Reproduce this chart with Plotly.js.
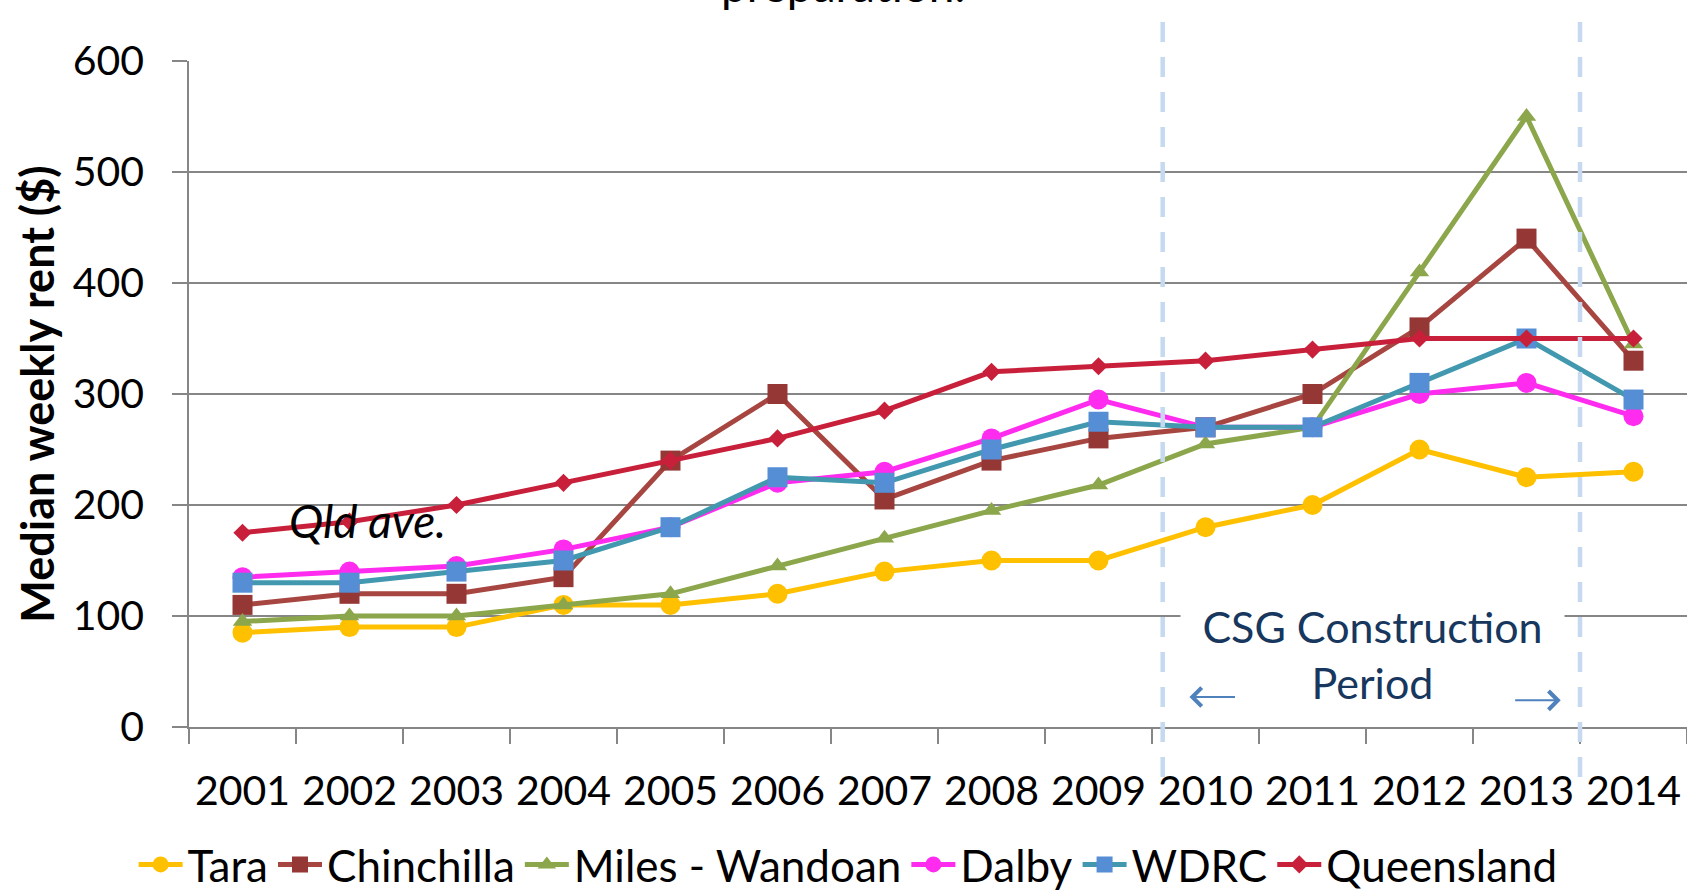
<!DOCTYPE html>
<html>
<head>
<meta charset="utf-8">
<script src="https://cdn.plot.ly/plotly-3.0.1.min.js"></script>
<style>
html,body{margin:0;padding:0;background:#fff;}
#chart{width:1687px;height:892px;}
</style>
</head>
<body>
<div id="chart"></div>
<script>
const years = ['2001','2002','2003','2004','2005','2006','2007','2008','2009','2010','2011','2012','2013','2014'];
const tara = [85, 90, 90, 110, 110, 120, 140, 150, 150, 180, 200, 250, 225, 230];
const chinchilla = [110, 120, 120, 135, 240, 300, 205, 240, 260, 270, 300, 360, 440, 330];
const milesWandoan = [95, 100, 100, 110, 120, 145, 170, 195, 218, 255, 270, 410, 550, 345];
const dalby = [135, 140, 145, 160, 180, 220, 230, 260, 295, 270, 270, 300, 310, 280];
const wdrc = [130, 130, 140, 150, 180, 225, 220, 250, 275, 270, 270, 310, 350, 295];
const queensland = [175, 185, 200, 220, 240, 260, 285, 320, 325, 330, 340, 350, 350, 350];
const yTicks = [0, 100, 200, 300, 400, 500, 600];

const FONT = 'Lato, "Open Sans", "DejaVu Sans", sans-serif';
const LW = 5;

function series(name, y, lineColor, markerColor, symbol, size) {
  return {
    type: 'scatter', mode: 'lines+markers', name: name,
    x: years, y: y,
    line: {color: lineColor, width: LW},
    marker: {color: markerColor, symbol: symbol, size: size, line: {width: 0}}
  };
}

const data = [
  series('Tara', tara, '#FFC000', '#FFC000', 'circle', 20),
  series('Chinchilla', chinchilla, '#A74641', '#953735', 'square', 20),
  series('Miles - Wandoan', milesWandoan, '#8BA64B', '#8BA64B', 'triangle-up', 17),
  series('Dalby', dalby, '#FF2BEF', '#FF2BEF', 'circle', 20),
  series('WDRC', wdrc, '#4198AF', '#558ED5', 'square', 20),
  series('Queensland', queensland, '#C8203A', '#C8203A', 'diamond', 14)
];

const dashStyle = {color: '#C6D9F1', width: 4.5, dash: '20px,15px'};

const layout = {
  width: 1687, height: 892,
  margin: {l: 189, r: 0, t: 61, b: 165, autoexpand: false},
  paper_bgcolor: '#fff', plot_bgcolor: '#fff',
  font: {family: FONT, color: '#000', size: 41},
  showlegend: true,
  legend: {
    orientation: 'h', x: 0.44, xanchor: 'center', y: -0.207, yanchor: 'middle',
    itemwidth: 44,
    font: {family: FONT, size: 44, color: '#000'}, bgcolor: 'rgba(0,0,0,0)'
  },
  xaxis: {
    type: 'category', range: [-0.5, 13.5], fixedrange: true, automargin: false,
    showgrid: false, showline: true, linecolor: '#868686', linewidth: 1.5,
    ticks: 'outside', tickson: 'boundaries', ticklen: 15, tickcolor: '#868686', tickwidth: 1.5,
    ticklabelstandoff: 27,
    tickfont: {family: FONT, size: 41, color: '#000'}
  },
  yaxis: {
    range: [0, 600], tickvals: yTicks, fixedrange: true, automargin: false,
    showgrid: true, gridcolor: '#868686', gridwidth: 1.5,
    zeroline: false, showline: true, linecolor: '#868686', linewidth: 1.5,
    ticks: 'outside', ticklen: 15, tickcolor: '#868686', tickwidth: 1.5,
    ticklabelstandoff: 20,
    tickfont: {family: FONT, size: 41, color: '#000'},
    title: {text: 'Median weekly rent ($)', font: {family: FONT, size: 45, color: '#000', weight: 'bold'}, standoff: 4}
  },
  shapes: [
    {type: 'line', xref: 'x', yref: 'paper', x0: 8.6, x1: 8.6, y0: -0.075, y1: 1.074, line: dashStyle, layer: 'above'},
    {type: 'line', xref: 'x', yref: 'paper', x0: 12.5, x1: 12.5, y0: -0.075, y1: 1.074, line: dashStyle, layer: 'above'}
  ],
  annotations: [
    {xref: 'paper', yref: 'paper', x: 0.4365, y: 1.07, xanchor: 'center', yanchor: 'bottom',
     text: 'preparation.', showarrow: false, font: {family: FONT, size: 46, color: '#000'}},
    {xref: 'x', yref: 'y', x: 1.17, y: 186, xanchor: 'center', yanchor: 'middle',
     text: '<i>Qld ave.</i>', showarrow: false, font: {family: FONT, size: 46, color: '#000'}},
    {xref: 'x', yref: 'y', x: 10.56, y: 65, xanchor: 'center', yanchor: 'middle',
     text: 'CSG Construction<br>Period', showarrow: false, bgcolor: '#fff', width: 375, borderpad: 4,
     font: {family: FONT, size: 43, color: '#17375E'}},
    {xref: 'x', yref: 'y', axref: 'x', ayref: 'y', x: 8.85, y: 27, ax: 9.29, ay: 27, text: '',
     showarrow: true, arrowhead: 4, arrowsize: 1.8, arrowwidth: 2, arrowcolor: '#4F81BD'},
    {xref: 'x', yref: 'y', axref: 'x', ayref: 'y', x: 12.32, y: 24, ax: 11.88, ay: 24, text: '',
     showarrow: true, arrowhead: 4, arrowsize: 1.8, arrowwidth: 2, arrowcolor: '#4F81BD'}
  ]
};

Plotly.newPlot('chart', data, layout, {displayModeBar: false, responsive: false});
</script>
</body>
</html>
